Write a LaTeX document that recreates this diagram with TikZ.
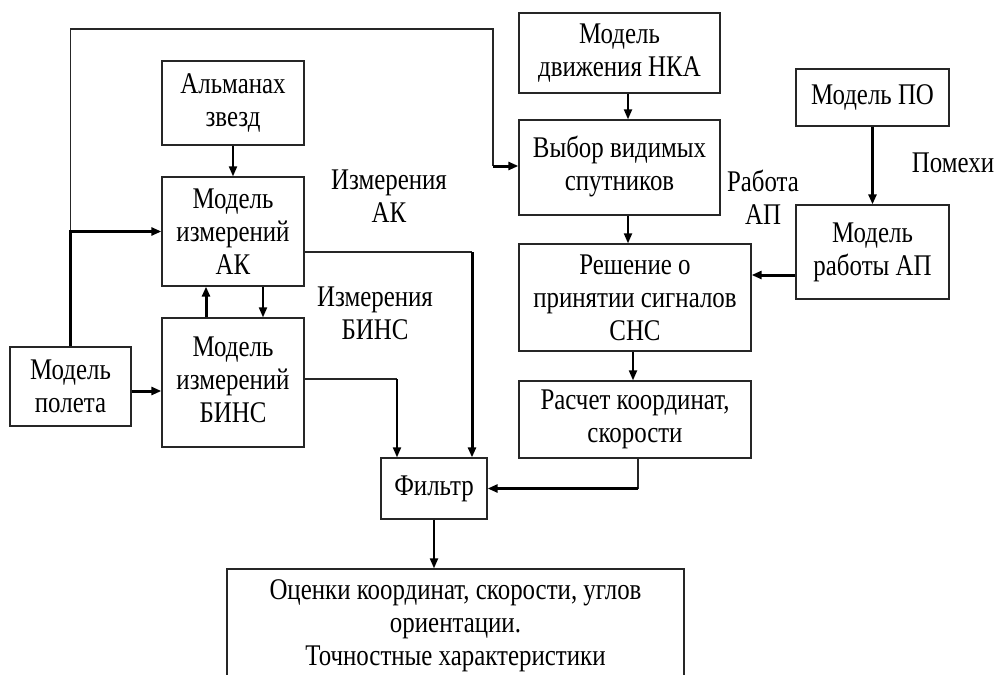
\documentclass[tikz,border=0pt]{standalone}
\usepackage{fontspec}
\setmainfont{Liberation Serif}[FakeStretch=0.83]
\usetikzlibrary{arrows.meta}
\tikzset{
  box/.style={draw=black!85, line width=1.3pt, inner sep=0pt, align=center,
    font=\fontsize{30}{33}\selectfont},
  lbl/.style={inner sep=0pt, align=center, font=\fontsize{30}{33}\selectfont},
  thinln/.style={line width=1.4pt, draw=black!85},
  medln/.style={line width=2pt},
  thickln/.style={line width=3pt},
  arr/.style={-{Triangle[length=10pt,width=8pt]}},
}
\newcommand{\rb}[2]{\raisebox{#1}{\begin{tabular}{@{}c@{}}#2\end{tabular}}}
\begin{document}
\begin{tikzpicture}[x=1pt,y=-1pt]
\useasboundingbox (0,0) rectangle (997,675);
\clip (0,0) rectangle (997,675);
\fill[white] (0,0) rectangle (997,675);

% boxes
\node[box, minimum width=142pt, minimum height=84pt] (alm) at (233,103) {Альманах\\звезд};
\node[box, minimum width=142pt, minimum height=109pt] (ak) at (233,231.5) {Модель\\измерений\\АК};
\node[box, minimum width=142pt, minimum height=129pt] (bins) at (233,382.5) {\rb{9pt}{Модель\\измерений\\БИНС}};
\node[box, minimum width=121pt, minimum height=79pt] (polet) at (70.5,386.5) {Модель\\полета};
\node[box, minimum width=106pt, minimum height=61pt] (filt) at (434,488.5) {\rb{4pt}{Фильтр}};
\node[box, minimum width=457pt, minimum height=114pt] (ocen) at (455.5,626) {\rb{3pt}{Оценки координат, скорости, углов\\ориентации.\\Точностные характеристики}};
\node[box, minimum width=201pt, minimum height=80pt] (nka) at (619.5,53) {Модель\\движения НКА};
\node[box, minimum width=201pt, minimum height=95pt] (vybor) at (619.5,167.5) {\rb{5pt}{Выбор видимых\\спутников}};
\node[box, minimum width=232pt, minimum height=107pt] (resh) at (635,297.5) {Решение о\\принятии сигналов\\СНС};
\node[box, minimum width=232pt, minimum height=77pt] (rasch) at (635,419.5) {Расчет координат,\\скорости};
\node[box, minimum width=153pt, minimum height=57pt] (po) at (872.5,97.5) {Модель ПО};
\node[box, minimum width=153pt, minimum height=94pt] (ap) at (872.5,252) {\rb{5pt}{Модель\\работы АП}};

% labels
\node[lbl] (lak) at (389,196) {Измерения\\АК};
\node[lbl] (lbins) at (375,313) {Измерения\\БИНС};
\node[lbl] (lap) at (763,197) {Работа\\АП};
\node[lbl] (lpom) at (953,163) {Помехи};

% helper coordinates
\coordinate (top) at (493,29);
\coordinate (xa) at (628,0);
\coordinate (xb) at (633,0);
\coordinate (xc) at (638,0);
\coordinate (xd) at (472,0);
\coordinate (xe) at (397,0);
\coordinate (xf) at (206,0);
\coordinate (xg) at (263,0);
\coordinate (ya) at (0,252);
\coordinate (yb) at (0,379);
\coordinate (yc) at (0,391);
\coordinate (yd) at (0,166);
\coordinate (ye) at (0,275);

% top loop
\draw[thinln] (polet.north |- ak.west) |- (top) -- (top |- yd);
\draw[thickln, arr] (top |- yd) -- (vybor.west |- yd);
\draw[thickln, arr] (polet.north) -- (polet.north |- ak.west) -- (ak.west);
\draw[thickln, arr] (polet.east |- yc) -- (bins.west |- yc);

% left column
\draw[medln, arr] (alm.south) -- (ak.north);
\draw[thickln, arr] (bins.north -| xf) -- (ak.south -| xf);
\draw[medln, arr] (ak.south -| xg) -- (bins.north -| xg);

% to filter
\draw[thinln] (ak.east |- ya) -- (xd |- ya);
\draw[thickln, arr] (xd |- ya) -- (filt.north -| xd);
\draw[thinln] (bins.east |- yb) -- (xe |- yb);
\draw[medln, arr] (xe |- yb) -- (filt.north -| xe);
\draw[thinln] (rasch.south -| xc) -- (xc |- filt.east);
\draw[thickln, arr] (xc |- filt.east) -- (filt.east);
\draw[medln, arr] (filt.south) -- (ocen.north -| filt.south);

% right column
\draw[medln, arr] (nka.south -| xa) -- (vybor.north -| xa);
\draw[medln, arr] (vybor.south -| xa) -- (resh.north -| xa);
\draw[medln, arr] (resh.south -| xb) -- (rasch.north -| xb);
\draw[thickln, arr] (po.south) -- (ap.north);
\draw[thickln, arr] (ap.west |- ye) -- (resh.east |- ye);
\end{tikzpicture}
\end{document}
